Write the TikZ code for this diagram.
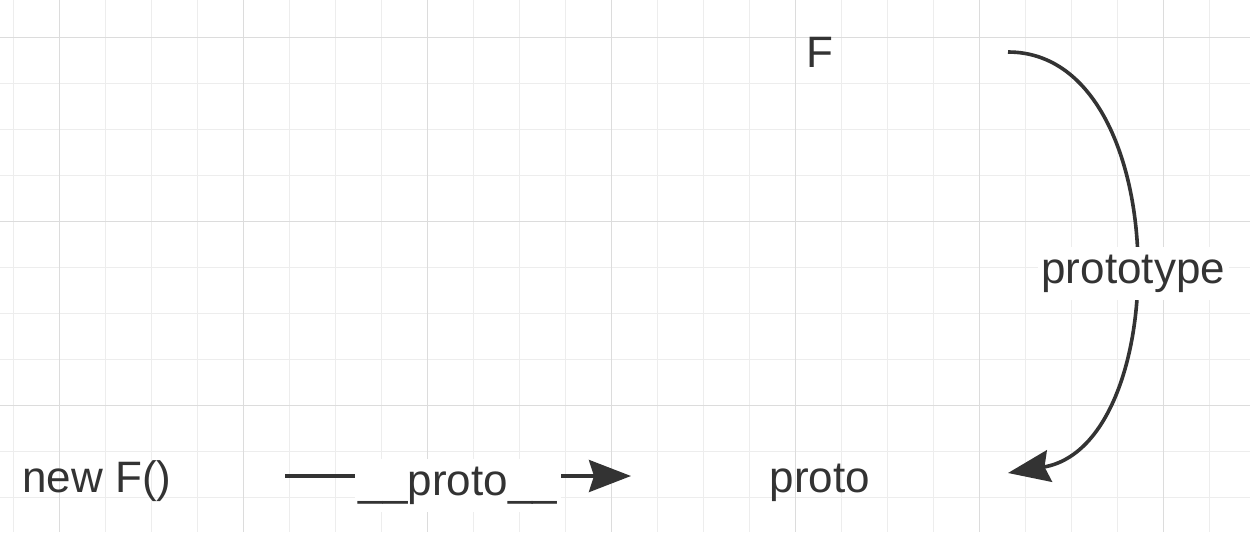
\documentclass[tikz,border=0pt]{standalone}
\usepackage{fontspec}
\setmainfont{Liberation Sans}
\usepackage{tikz}
\usetikzlibrary{arrows.meta,%
                positioning}

\definecolor{inkgray}{HTML}{333333}
\definecolor{gridminor}{HTML}{EDEDED}
\definecolor{gridmajor}{HTML}{DCDCDC}

\tikzset{
  gridline/.style={draw=gridminor, line width=0.6pt},
  gridmain/.style={draw=gridmajor, line width=0.7pt},
  plain/.style={text=inkgray, font=\fontsize{22pt}{26pt}\selectfont, inner sep=0pt},
  link/.style={draw=inkgray, line width=1.8pt,
    -{Stealth[length=21pt,width=16pt,inset=2.5pt]}},
  linklabel/.style={plain, fill=white, inner xsep=2pt, inner ysep=4pt, anchor=base}
}

\begin{document}
\begin{tikzpicture}[x=0.5pt, y=-0.5pt]
\useasboundingbox (0,0) rectangle (1250,532);
\fill[white] (0,0) rectangle (1250,532);
% grid
\foreach \k in {0,...,26}
  \draw[gridline] ({13.3+46*\k},0) -- ({13.3+46*\k},532);
\foreach \k in {0,...,10}
  \draw[gridline] (0,{37.5+46*\k}) -- (1250,{37.5+46*\k});
\foreach \k in {1,5,...,25}
  \draw[gridmain] ({13.3+46*\k},0) -- ({13.3+46*\k},532);
\foreach \k in {0,4,8}
  \draw[gridmain] (0,{37.5+46*\k}) -- (1250,{37.5+46*\k});

\node[plain, anchor=base] (F) at (820,67) {F};
\node[plain, anchor=base] (newF) at (97,492) {new F()};
\node[plain, anchor=base] (proto) at (820,492) {proto};

\coordinate (fromF) at (1008,52);
\coordinate (toproto) at (1008,473);
\coordinate (fromnew) at (285,476);
\coordinate (tonew) at (631,476);

\draw[link] (fromF) .. controls (1175,52) and (1175,445) .. (toproto)
  node[linklabel, pos=0.5, yshift=-15.5pt] (protolabel) {prototype};
\draw[link] (fromnew) -- (tonew)
  node[linklabel, pos=0.5, yshift=-9.5pt] (dunderlabel) {\_\_proto\_\_};
\end{tikzpicture}
\end{document}
